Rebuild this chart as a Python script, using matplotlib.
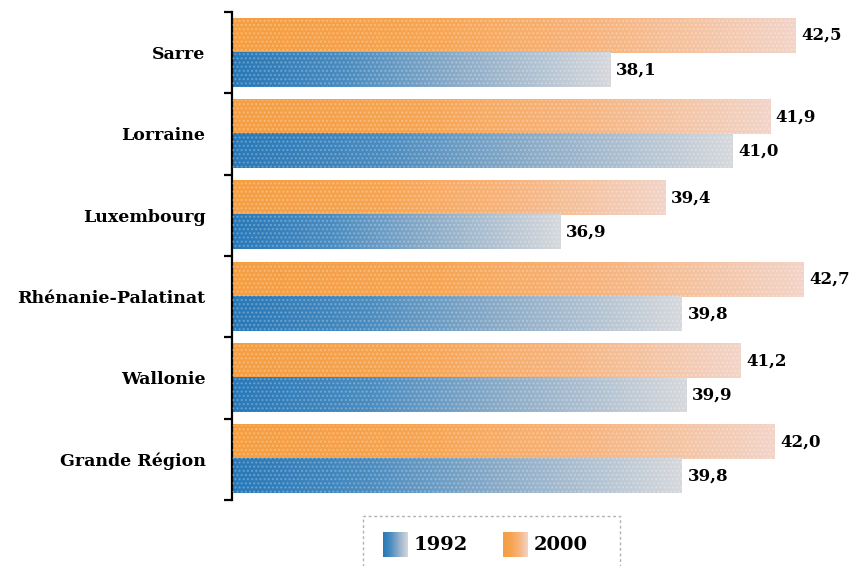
import numpy as np
import matplotlib
matplotlib.use('Agg')
import matplotlib.pyplot as plt
from matplotlib.colors import LinearSegmentedColormap
from matplotlib.patches import Rectangle

# Regions and values (per cent)
regions = ["Sarre", "Lorraine", "Luxembourg", "Rhénanie-Palatinat", "Wallonie", "Grande Région"]
values_1992 = [38.1, 41.0, 36.9, 39.8, 39.9, 39.8]
values_2000 = [42.5, 41.9, 39.4, 42.7, 41.2, 42.0]
years = ["1992", "2000"]

X_MIN, X_MAX = 29.1, 44.2
BAR_H = 0.42

blue_cmap = LinearSegmentedColormap.from_list(
    "blue_fade", [(0, "#2878b8"), (0.3, "#4a8cc0"), (0.6, "#8cacc8"), (1, "#d6d8dc")])
orange_cmap = LinearSegmentedColormap.from_list(
    "orange_fade", [(0, "#f59e42"), (0.35, "#f7a552"), (0.65, "#f7b47e"), (1, "#f2d4c8")])
grad = np.linspace(0, 1, 256).reshape(1, -1)

label_font = dict(family="DejaVu Serif", fontweight="bold", color="black")


def gradient_bar(ax, x0, x1, y0, y1, cmap):
    ax.imshow(grad, cmap=cmap, aspect="auto", extent=(x0, x1, y1, y0),
              interpolation="bilinear", zorder=2)
    ax.add_patch(Rectangle((x0, y0), x1 - x0, y1 - y0, fill=False, lw=0,
                           hatch="....", edgecolor=(1, 1, 1, 0.25), zorder=3))


fig = plt.figure(figsize=(8.67, 5.66), dpi=100)
ax = fig.add_axes([232 / 867, 1 - 500 / 566, 1 - 232 / 867, (500 - 12) / 566])

for i, (v92, v00) in enumerate(zip(values_1992, values_2000)):
    gradient_bar(ax, X_MIN, v00, i - BAR_H, i, orange_cmap)
    gradient_bar(ax, X_MIN, v92, i, i + BAR_H, blue_cmap)
    ax.annotate(f"{v00:.1f}".replace(".", ","), (v00, i - BAR_H / 2),
                xytext=(4, 0), textcoords="offset points", va="center",
                ha="left", fontsize=12, **label_font)
    ax.annotate(f"{v92:.1f}".replace(".", ","), (v92, i + BAR_H / 2),
                xytext=(4, 0), textcoords="offset points", va="center",
                ha="left", fontsize=12, **label_font)

ax.set_xlim(X_MIN, X_MAX)
ax.set_ylim(len(regions) - 0.5, -0.5)

# group separators on the left axis, labels at the group centres
ax.set_yticks(np.arange(len(regions) + 1) - 0.5)
ax.set_yticklabels([])
ax.set_yticks(np.arange(len(regions)), minor=True)
ax.set_yticklabels(regions, minor=True, fontsize=12.5, **label_font)
ax.tick_params(axis="y", which="major", direction="out", length=6, width=1.6)
ax.tick_params(axis="y", which="minor", length=0, pad=19)
ax.set_xticks([])

for side in ["top", "right", "bottom"]:
    ax.spines[side].set_visible(False)
ax.spines["left"].set_linewidth(1.6)

# legend box
fig.add_artist(Rectangle((363 / 867, -0.05), (620 - 363) / 867, 0.05 + 50 / 566,
                         transform=fig.transFigure, fill=False, ls=(0, (2, 2)),
                         lw=1, edgecolor="#b0b0b0", clip_on=False))
for year, cmap, px in zip(years, [blue_cmap, orange_cmap], [383, 503]):
    lax = fig.add_axes([px / 867, 1 - 557 / 566, 25 / 867, 25 / 566])
    lax.imshow(grad, cmap=cmap, aspect="auto", interpolation="bilinear")
    lax.axis("off")
    fig.text((px + 31) / 867, 1 - 545 / 566, year, va="center", ha="left",
             fontsize=14, **label_font)

fig.savefig("out.png", dpi=100)
